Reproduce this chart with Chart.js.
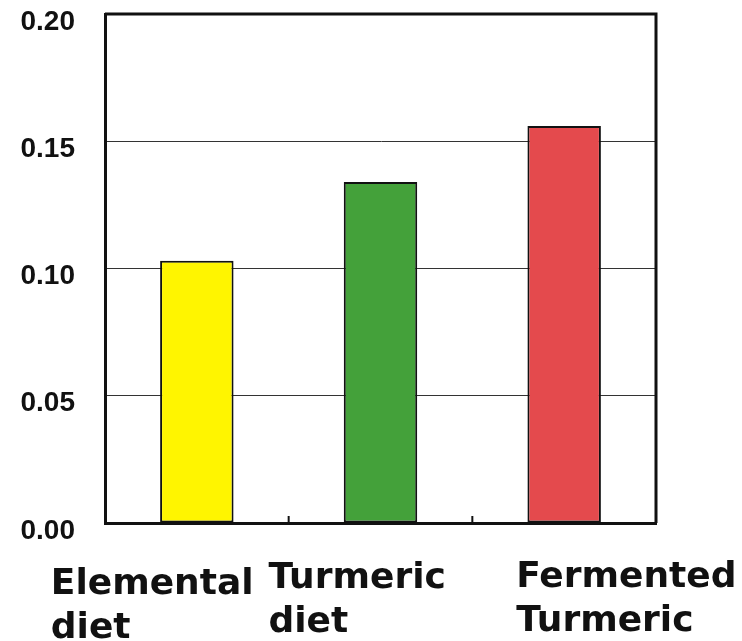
<!DOCTYPE html>
<html>
<head>
<meta charset="utf-8">
<script src="https://cdn.jsdelivr.net/npm/chart.js@4"></script>
<style>
  html, body { margin: 0; padding: 0; background: #fff; }
  #wrap { width: 742px; height: 641px; }
</style>
</head>
<body>
<div id="wrap"><canvas id="myChart"></canvas></div>
<script>
const categories = [['Elemental', 'diet'], ['Turmeric', 'diet'], ['Fermented', 'Turmeric']];
const values = [0.103, 0.134, 0.156];
const barColors = ['#FFF500', '#44A13A', '#E44A4D'];
const yTicks = [0, 0.05, 0.1, 0.15, 0.2];

// where each category label starts, relative to the bar centre, and its baseline shift
const labelShift = [[-146, 4], [-112, -2], [-48, -3]];

const frameAndLabels = {
  id: 'frameAndLabels',
  afterDraw(chart) {
    const c = chart.ctx;
    const a = chart.chartArea;
    const xs = chart.scales.x;
    c.save();
    c.strokeStyle = '#111';
    c.lineWidth = 3;
    c.beginPath();
    c.moveTo(a.left, a.top);
    c.lineTo(a.right, a.top);
    c.lineTo(a.right, a.bottom);
    c.stroke();

    // little tick marks between categories
    c.lineWidth = 2;
    const half = (xs.getPixelForTick(1) - xs.getPixelForTick(0)) / 2;
    for (let i = 0; i < categories.length - 1; i++) {
      const x = xs.getPixelForTick(i) + half;
      c.beginPath();
      c.moveTo(x, a.bottom);
      c.lineTo(x, a.bottom - 7);
      c.stroke();
    }

    c.fillStyle = '#111';
    c.font = 'bold 36px "DejaVu Sans"';
    c.textAlign = 'left';
    c.textBaseline = 'alphabetic';
    categories.forEach((lines, i) => {
      const x = xs.getPixelForTick(i) + labelShift[i][0];
      lines.forEach((t, j) => {
        c.fillText(t, x, a.bottom + 67 + labelShift[i][1] + j * 44);
      });
    });
    c.restore();
  }
};

new Chart(document.getElementById('myChart'), {
  type: 'bar',
  data: {
    labels: categories.map(l => l.join(' ')),
    datasets: [{
      data: values,
      backgroundColor: barColors,
      borderColor: '#111',
      borderWidth: 2,
      borderSkipped: false,
      barPercentage: 0.4,
      categoryPercentage: 1
    }]
  },
  options: {
    responsive: true,
    maintainAspectRatio: false,
    animation: false,
    layout: { padding: { left: 10, right: 86, top: 14, bottom: 118 } },
    plugins: {
      legend: { display: false },
      tooltip: { enabled: false }
    },
    scales: {
      x: {
        ticks: { display: false },
        grid: { display: false, drawTicks: false },
        border: { color: '#111', width: 3 }
      },
      y: {
        min: 0,
        max: 0.2,
        afterFit(scale) {
          scale.width = 95;
          scale.paddingTop = 0;
          scale.paddingBottom = 0;
        },
        afterBuildTicks(scale) { scale.ticks = yTicks.map(v => ({ value: v })); },
        ticks: {
          padding: 30,
          labelOffset: 8,
          color: '#111',
          font: { family: 'Liberation Sans', size: 28, weight: 'bold' },
          callback: v => v.toFixed(2)
        },
        grid: { color: '#333', lineWidth: 1, drawTicks: false },
        border: { color: '#111', width: 3 }
      }
    }
  },
  plugins: [frameAndLabels]
});
</script>
</body>
</html>
